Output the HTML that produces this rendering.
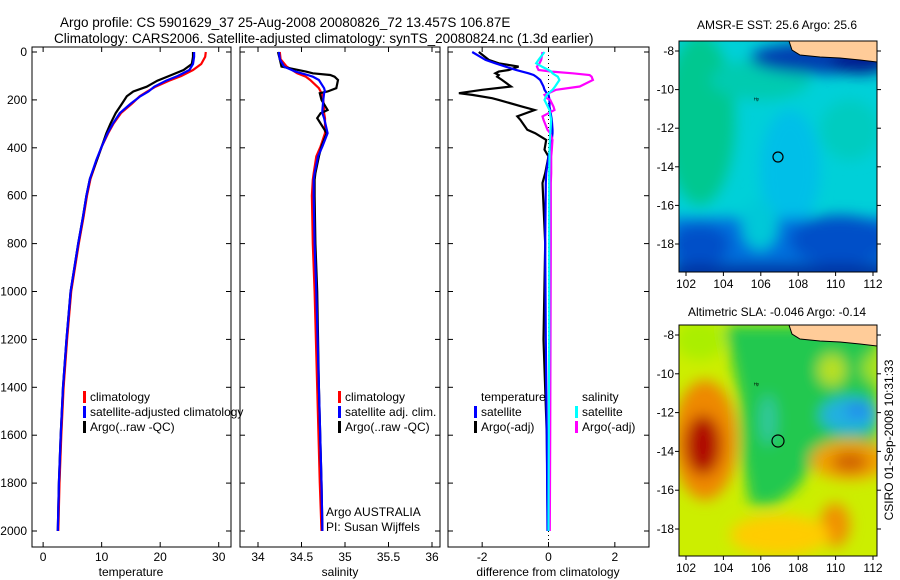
<!DOCTYPE html>
<html><head><meta charset="utf-8">
<style>
html,body{margin:0;padding:0;background:#fff;}
svg{display:block;font-family:"Liberation Sans",sans-serif;}
</style></head>
<body>
<svg id="fig" width="900" height="580" viewBox="0 0 900 580" xmlns="http://www.w3.org/2000/svg">
<defs>
 <filter id="blur1" x="-20%" y="-20%" width="140%" height="140%"><feGaussianBlur stdDeviation="7"/></filter>
 <clipPath id="clipTop"><rect x="679" y="41" width="198" height="231"/></clipPath>
 <clipPath id="clipBot"><rect x="679" y="325" width="198" height="231"/></clipPath>
</defs>
<text x="60" y="27" font-size="13.5">Argo profile: CS 5901629_37 25-Aug-2008 20080826_72 13.457S 106.87E</text>
<text x="54" y="43" font-size="13.5">Climatology: CARS2006. Satellite-adjusted climatology: synTS_20080824.nc (1.3d earlier)</text>

<!-- SST map -->
<g>
 <g clip-path="url(#clipTop)">
  <rect x="679" y="41" width="198" height="231" fill="#00d0d8"/>
  <g filter="url(#blur1)">
   <ellipse cx="700" cy="120" rx="35" ry="85" fill="#00c890"/>
   <ellipse cx="760" cy="80" rx="50" ry="20" fill="#00cbb0"/>
   <ellipse cx="850" cy="130" rx="30" ry="30" fill="#00ccc0"/>
   <ellipse cx="790" cy="170" rx="30" ry="60" fill="#00bfe8"/>
   <rect x="670" y="218" width="220" height="60" fill="#0070dd"/>
   <ellipse cx="840" cy="240" rx="50" ry="25" fill="#0050c8"/>
   <ellipse cx="700" cy="245" rx="30" ry="20" fill="#0050c8"/>
   <ellipse cx="760" cy="225" rx="18" ry="25" fill="#00c8d8"/>
   <rect x="670" y="264" width="220" height="20" fill="#0030a0"/>
   <ellipse cx="820" cy="58" rx="70" ry="16" fill="#0040b0"/>
   <ellipse cx="860" cy="62" rx="30" ry="12" fill="#001a90"/>
  </g>
  <polygon points="789,41 877,41 877,62 860,60 840,58 820,57 800,55 792,50" fill="#ffcc99" stroke="#000" stroke-width="1"/>
  <text x="754" y="102" font-size="6">ᴴᵖ</text>
  <circle cx="778" cy="157" r="5" fill="none" stroke="#000" stroke-width="1.2"/>
 </g>
 <rect x="679" y="41" width="198" height="231" fill="none" stroke="#000"/>
 <text x="777" y="29" font-size="12" text-anchor="middle">AMSR-E SST: 25.6 Argo: 25.6</text>
</g>

<!-- SLA map -->
<g>
 <g clip-path="url(#clipBot)">
  <rect x="679" y="325" width="198" height="231" fill="#ccee00"/>
  <g filter="url(#blur1)">
   <polygon points="725,325 877,325 877,465 820,455 795,490 775,505 750,505 742,460 740,400" fill="#22c850"/>
   <ellipse cx="705" cy="440" rx="32" ry="60" fill="#ee8800"/>
   <ellipse cx="703" cy="445" rx="18" ry="30" fill="#b01000"/>
   <ellipse cx="850" cy="460" rx="40" ry="20" fill="#f0a000"/>
   <ellipse cx="850" cy="462" rx="18" ry="10" fill="#d06000"/>
   <ellipse cx="835" cy="525" rx="15" ry="22" fill="#f09000"/>
   <ellipse cx="780" cy="535" rx="50" ry="20" fill="#ffcc00"/>
   <ellipse cx="850" cy="415" rx="30" ry="18" fill="#20b0e0"/>
   <ellipse cx="858" cy="410" rx="12" ry="8" fill="#2288ee"/>
   <ellipse cx="832" cy="370" rx="14" ry="16" fill="#b8e020"/>
   <ellipse cx="872" cy="368" rx="10" ry="14" fill="#a0e020"/>
   <ellipse cx="768" cy="420" rx="8" ry="25" fill="#30c8a0"/>
   <ellipse cx="700" cy="340" rx="25" ry="20" fill="#aaee00"/>
  </g>
  <polygon points="789,325 877,325 877,346 860,344 840,342 820,341 800,339 792,334" fill="#ffcc99" stroke="#000" stroke-width="1"/>
  <text x="754" y="387" font-size="6">ᴴᵖ</text>
  <circle cx="778" cy="441" r="6" fill="none" stroke="#000" stroke-width="1.2"/>
 </g>
 <rect x="679" y="325" width="198" height="231" fill="none" stroke="#000"/>
 <text x="777" y="316" font-size="12" text-anchor="middle">Altimetric SLA: -0.046 Argo: -0.14</text>
</g>
<text transform="translate(893,440) rotate(-90)" font-size="12" text-anchor="middle">CSIRO 01-Sep-2008 10:31:33</text>
<g id="dyn"></g>
</svg>
<script>
// ---- data ----
const depthTicks = [0,200,400,600,800,1000,1200,1400,1600,1800,2000];
const tempTicks = [0,10,20,30];
const salTicks = [34,34.5,35,35.5,36];
const salTickLabels = ["34","34.5","35","35.5","36"];
const diffTicks = [-2,0,2];
const tDepth = [0,20,50,75,100,120,145,165,185,215,255,300,340,395,450,530,600,690,800,1000,1200,1400,1600,1800,2000];
const tClim = [27.8,27.7,27.0,25.6,23.6,21.5,19.2,17.8,16.5,15.2,13.3,12.0,11.1,10.0,9.2,8.1,7.5,6.9,6.1,4.8,4.1,3.5,3.1,2.8,2.6];
const tSat = [25.8,25.8,25.6,25.0,23.0,21.0,19.0,18.0,16.6,15.0,13.1,11.9,11.0,10.0,9.1,8.0,7.4,6.8,6.0,4.7,4.0,3.4,3.0,2.7,2.5];
const tArgo = [25.6,25.6,25.4,24.0,21.5,19.5,17.7,15.4,14.3,13.5,12.4,11.5,10.8,10.0,9.2,8.0,7.4,6.8,6.0,4.7,4.0,3.4,3.0,2.7,2.5];
const sDepth = [0,30,61,82,89,96,103,117,151,165,172,200,242,256,276,339,394,436,506,533,600,800,1000,1400,1800,2000];
const sClim = [34.25,34.26,34.33,34.42,34.45,34.5,34.55,34.60,34.70,34.72,34.73,34.75,34.76,34.76,34.77,34.77,34.72,34.67,34.64,34.63,34.62,34.63,34.65,34.68,34.71,34.73];
const sSat = [34.24,34.25,34.30,34.43,34.50,34.57,34.63,34.70,34.76,34.77,34.76,34.75,34.74,34.74,34.76,34.80,34.74,34.69,34.65,34.64,34.64,34.65,34.67,34.70,34.73,34.74];
const sArgo = [34.23,34.25,34.27,34.55,34.63,34.83,34.88,34.92,34.90,34.80,34.71,34.73,34.80,34.72,34.68,34.79,34.73,34.70,34.66,34.65,34.65,34.66,34.68,34.70,34.73,34.74];
const dDepth = [0,33,47,61,75,82,89,96,103,117,144,158,172,179,193,200,228,242,269,283,325,339,367,408,436,506,547,800,1200,1600,2000];
const dTSat = [-2.3,-1.9,-1.6,-1.3,-0.98,-0.8,-0.6,-0.45,-0.37,-0.25,-0.15,-0.12,-0.05,0,0.02,0.03,0.03,0.05,0.08,0.1,0.12,0.12,0.1,0.05,0,-0.07,-0.08,-0.1,-0.08,-0.05,-0.03];
const dTArgo = [-2.1,-1.8,-1.5,-0.9,-1.2,-1.5,-1.6,-1.5,-1.55,-1.4,-1.13,-2.0,-2.7,-2.3,-1.7,-1.5,-0.8,-0.42,-0.94,-0.85,-0.64,-0.4,-0.07,-0.12,0,-0.1,-0.18,-0.1,-0.15,-0.05,-0.02];
const dSSat = [-0.12,-0.3,-0.37,-0.2,0,0.08,0.12,0.2,0.28,0.33,0.2,0.12,0,-0.05,-0.1,-0.12,-0.02,0.03,0.06,0.08,0.06,0.05,0.04,0.03,0.03,0.02,0.02,0.02,0.02,0.01,0];
const dSArgo = [-0.18,-0.22,-0.27,-0.35,-0.3,0.1,0.73,1.24,1.3,1.34,0.94,0.23,0,-0.12,-0.05,0.05,0.15,0.18,-0.18,-0.15,-0.03,0.05,0.12,0.1,0.08,0.08,0.07,0.07,0.06,0.05,0.04];
const lonTicks = [102,104,106,108,110,112];
const latTicks = [-8,-10,-12,-14,-16,-18];

const NS='http://www.w3.org/2000/svg';
const dyn=document.getElementById('dyn');
function mk(tag,attrs,parent){const e=document.createElementNS(NS,tag);for(const k in attrs)e.setAttribute(k,attrs[k]);(parent||dyn).appendChild(e);return e;}
const TOP=52, BOT=547;
const yD = d => TOP + d*0.2395;

function panel(name,x0,x1,xmin,xmax){
  const g=mk('g',{});
  
  
  const sx = v => x0 + (v-xmin)/(xmax-xmin)*(x1-x0);
  return {g,sx,x0,x1};
}
function frame(p,xt,labels,ylab){
  const r=mk('rect',{x:p.x0,y:TOP-5,width:p.x1-p.x0,height:BOT-TOP+5,fill:'none',stroke:'#000','stroke-width':1},p.g);
  
  
  depthTicks.forEach(d=>{
    const y=yD(d);
    mk('line',{x1:p.x0,x2:p.x0+5,y1:y,y2:y,stroke:'#000'},p.g);
    mk('line',{x1:p.x1-5,x2:p.x1,y1:y,y2:y,stroke:'#000'},p.g);
    if(ylab){const t=mk('text',{x:p.x0-5,y:y+4,'font-size':12,'text-anchor':'end'},p.g);t.textContent=d;
      
      }
  });
  xt.forEach((v,i)=>{
    const x=p.sx(v);
    mk('line',{x1:x,x2:x,y1:BOT,y2:BOT-5,stroke:'#000'},p.g);
    mk('line',{x1:x,x2:x,y1:TOP-5,y2:TOP,stroke:'#000'},p.g);
    const t=mk('text',{x:x,y:BOT+14,'font-size':12,'text-anchor':'middle'},p.g);t.textContent=labels[i];
    
    
  });
}
function series(p,vals,depths,color,name){
  const d=vals.map((v,i)=>(i?'L':'M')+p.sx(v).toFixed(1)+','+yD(depths[i]).toFixed(1)).join('');
  const e=mk('path',{d:d,fill:'none',stroke:color,'stroke-width':2.2},p.g);
  
  
}
function text(p,x,y,s,name,anchor){
  const t=mk('text',{x:x,y:y,'font-size':12,'text-anchor':anchor||'start'},p.g);t.textContent=s;
  
  
}
function legbar(p,x,y,color,name){
  const r=mk('rect',{x:x,y:y-6,width:3,height:12,fill:color},p.g);
  
  
}

// temperature
const P1=panel('temperature',32,231,-1.9,32.1);
frame(P1,tempTicks,tempTicks.map(String),true);
series(P1,tClim,tDepth,'#ff0000','temp-climatology-line');
series(P1,tArgo,tDepth,'#000000','temp-argo-line');
series(P1,tSat,tDepth,'#0000ff','temp-satellite-line');
text(P1,131,576,'temperature','x-axis-title','middle');
legbar(P1,83,397,'#f00','legend-climatology-swatch');text(P1,90,401,'climatology','legend-climatology');
legbar(P1,83,412,'#00f','legend-satellite-swatch');text(P1,90,416,'satellite-adjusted climatology','legend-satellite');
legbar(P1,83,427,'#000','legend-argo-swatch');text(P1,90,431,'Argo(..raw -QC)','legend-argo');

// salinity
const P2=panel('salinity',240,440,33.793,36.092);
frame(P2,salTicks,salTickLabels,false);
series(P2,sClim,sDepth,'#ff0000','sal-climatology-line');
series(P2,sArgo,sDepth,'#000000','sal-argo-line');
series(P2,sSat,sDepth,'#0000ff','sal-satellite-line');
text(P2,340,576,'salinity','x-axis-title','middle');
legbar(P2,338,397,'#f00','legend-climatology-swatch');text(P2,345,401,'climatology','legend-climatology');
legbar(P2,338,412,'#00f','legend-satellite-swatch');text(P2,345,416,'satellite adj. clim.','legend-satellite');
legbar(P2,338,427,'#000','legend-argo-swatch');text(P2,345,431,'Argo(..raw -QC)','legend-argo');
text(P2,326,516,'Argo AUSTRALIA','agency-note');
text(P2,326,531,'PI: Susan Wijffels','pi-note');

// difference
const P3=panel('difference',448,649,-3.03,3.03);
frame(P3,diffTicks,diffTicks.map(String),false);
mk('line',{x1:P3.sx(0),x2:P3.sx(0),y1:TOP-5,y2:BOT,stroke:'#000','stroke-dasharray':'1,3'},P3.g);
series(P3,dTArgo,dDepth,'#000000','diff-temp-argo-line');
series(P3,dTSat,dDepth,'#0000ff','diff-temp-satellite-line');
series(P3,dSArgo,dDepth,'#ff00ff','diff-sal-argo-line');
series(P3,dSSat,dDepth,'#00ffff','diff-sal-satellite-line');
text(P3,548,576,'difference from climatology','x-axis-title','middle');
text(P3,481,401,'temperature','legend-temperature-header');
legbar(P3,474,412,'#00f','legend-tsat-swatch');text(P3,481,416,'satellite','legend-temp-satellite');
legbar(P3,474,427,'#000','legend-targo-swatch');text(P3,481,431,'Argo(-adj)','legend-temp-argo');
text(P3,582,401,'salinity','legend-salinity-header');
legbar(P3,575,412,'#0ff','legend-ssat-swatch');text(P3,582,416,'satellite','legend-sal-satellite');
legbar(P3,575,427,'#f0f','legend-sargo-swatch');text(P3,582,431,'Argo(-adj)','legend-sal-argo');

// map axes
function mapAxes(name,x0,x1,y0,y1,lat8y,lat18y){
  const g=mk('g',{});
  
  
  const sx=l=>686+(l-102)*(873-686)/10;
  const sy=l=>lat8y+(-8-l)*(lat18y-lat8y)/10;
  lonTicks.forEach(l=>{const x=sx(l);
    mk('line',{x1:x,x2:x,y1:y1,y2:y1+4,stroke:'#000'},g);
    const t=mk('text',{x:x,y:y1+16,'font-size':12,'text-anchor':'middle'},g);t.textContent=l;
    
    });
  latTicks.forEach(l=>{const y=sy(l);
    mk('line',{x1:x0-4,x2:x0,y1:y,y2:y,stroke:'#000'},g);
    mk('line',{x1:x1,x2:x1+4,y1:y,y2:y,stroke:'#000'},g);
    const t=mk('text',{x:x0-5,y:y+4,'font-size':12,'text-anchor':'end'},g);t.textContent=l;
    
    });
}
mapAxes('sst-map',679,877,41,272,51,244);
mapAxes('sla-map',679,877,325,556,335,529);
</script>
</body></html>
